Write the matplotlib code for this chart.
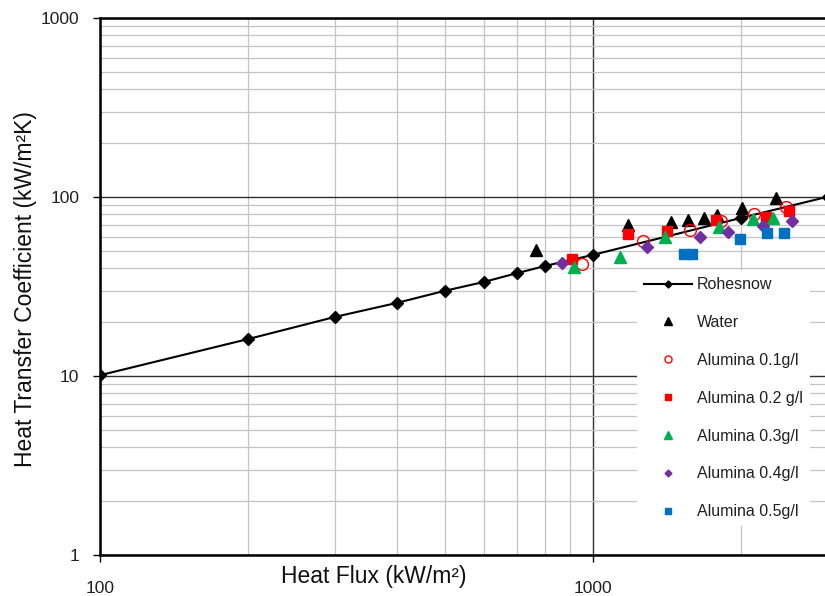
import matplotlib
matplotlib.use("Agg")
import matplotlib.pyplot as plt
from matplotlib.ticker import NullFormatter, LogLocator

plt.rcParams['font.family'] = ['Liberation Sans', 'DejaVu Sans']

# ---- data ----
rohsenow_q = [100, 200, 300, 400, 500, 600, 700, 800, 1000, 2000, 3000]
rohsenow_h = [10.1, 16.1, 21.4, 25.6, 29.9, 33.5, 37.5, 41.2, 47.5, 76.5, 100.5]

water_q = [766, 1178, 1439, 1560, 1680, 1785, 2006, 2350]
water_h = [50.6, 69.8, 72.5, 74.5, 76.4, 79.0, 86.9, 98.7]

alumina01_q = [950, 1262, 1574, 1820, 2121, 2461]
alumina01_h = [42.2, 56.8, 65.5, 73.5, 80.4, 88.0]

alumina02_q = [906, 1178, 1413, 1773, 2243, 2500]
alumina02_h = [45.1, 62.1, 64.6, 74.4, 77.2, 83.5]

alumina03_q = [915, 1136, 1400, 1803, 2113, 2318]
alumina03_h = [40.6, 46.2, 59.8, 68.0, 75.3, 76.4]

alumina04_q = [865, 1288, 1648, 1879, 2213, 2535]
alumina04_h = [42.8, 52.6, 59.8, 63.7, 68.9, 73.5]

alumina05_q = [1531, 1589, 1986, 2254, 2439]
alumina05_h = [48.1, 48.1, 58.2, 63.0, 63.0]

x_ticks = [100, 1000]
x_tick_labels = ["100", "1000"]
y_ticks = [1, 10, 100, 1000]
y_tick_labels = ["1", "10", "100", "1000"]

# ---- figure ----
fig = plt.figure(figsize=(8.25, 5.96), dpi=100)
ax = fig.add_axes([100 / 825, 1 - 555 / 596, 725 / 825, 537 / 596])
ax.set_xscale('log')
ax.set_yscale('log')
ax.set_xlim(100, 2955)
ax.set_ylim(1, 1000)

# grid
ax.xaxis.set_minor_locator(LogLocator(base=10, subs=range(2, 10)))
ax.yaxis.set_minor_locator(LogLocator(base=10, subs=range(2, 10)))
ax.xaxis.set_minor_formatter(NullFormatter())
ax.yaxis.set_minor_formatter(NullFormatter())
ax.grid(which='minor', color='#c4c4c4', linewidth=0.9, zorder=0)
ax.grid(which='major', color='#303030', linewidth=1.0, zorder=0)
ax.set_axisbelow(True)

ax.set_xticks(x_ticks)
ax.set_xticklabels(x_tick_labels)
ax.set_yticks(y_ticks)
ax.set_yticklabels(y_tick_labels)
ax.tick_params(axis='both', which='minor', length=0)
ax.tick_params(axis='x', which='major', direction='out', length=5, width=1,
               pad=14, labelsize=12.5, colors='black')
ax.tick_params(axis='y', which='major', direction='out', length=5, width=1,
               pad=10, labelsize=12.5, colors='black')
for lab in ax.get_xticklabels() + ax.get_yticklabels():
    lab.set_color('#202020')

for s in ['left', 'bottom', 'top']:
    ax.spines[s].set_linewidth(1.8)
    ax.spines[s].set_color('black')
ax.spines['right'].set_visible(False)

# series
ax.plot(rohsenow_q, rohsenow_h, color='black', linewidth=1.5, marker='D',
        markersize=6, label='Rohesnow', zorder=3, clip_on=True)
ax.plot(water_q, water_h, linestyle='none', marker='^', markersize=9,
        color='black', label='Water', zorder=4)
ax.plot(alumina01_q, alumina01_h, linestyle='none', marker='o', markersize=8.5,
        markerfacecolor='none', markeredgecolor='#ff0000', markeredgewidth=1.0,
        label='Alumina 0.1g/l', zorder=5)
ax.plot(alumina02_q, alumina02_h, linestyle='none', marker='s', markersize=7.5,
        color='#ff0000', label='Alumina 0.2 g/l', zorder=6)
ax.plot(alumina03_q, alumina03_h, linestyle='none', marker='^', markersize=8.5,
        color='#00b050', label='Alumina 0.3g/l', zorder=7)
ax.plot(alumina04_q, alumina04_h, linestyle='none', marker='D', markersize=5.8,
        color='#7030a0', label='Alumina 0.4g/l', zorder=8)
ax.plot(alumina05_q, alumina05_h, linestyle='none', marker='s', markersize=7,
        color='#0070c0', label='Alumina 0.5g/l', zorder=9)

# labels
ax.set_xlabel('Heat Flux (kW/m²)', fontsize=16.5, color='#101010')
ax.xaxis.set_label_coords((374 - 100) / 725, (555 - 565) / 537)
ax.xaxis.label.set_verticalalignment('top')
ax.set_ylabel('Heat Transfer Coefficient (kW/m²K)', fontsize=16.5, color='#101010')
ax.yaxis.set_label_coords((37 - 100) / 725, (555 - 289) / 537)

leg = ax.legend(loc='upper left', bbox_to_anchor=(637 / 825, 1 - 270 / 596),
                bbox_transform=fig.transFigure, frameon=True, fancybox=False,
                facecolor='white', edgecolor='none', framealpha=1.0,
                fontsize=11.5, markerscale=0.6, handlelength=3.0,
                handletextpad=0.3, labelspacing=1.43, borderpad=0.45,
                borderaxespad=0)
leg.set_zorder(20)
for t in leg.get_texts():
    t.set_color('#202020')

fig.savefig('out.png', dpi=100)
